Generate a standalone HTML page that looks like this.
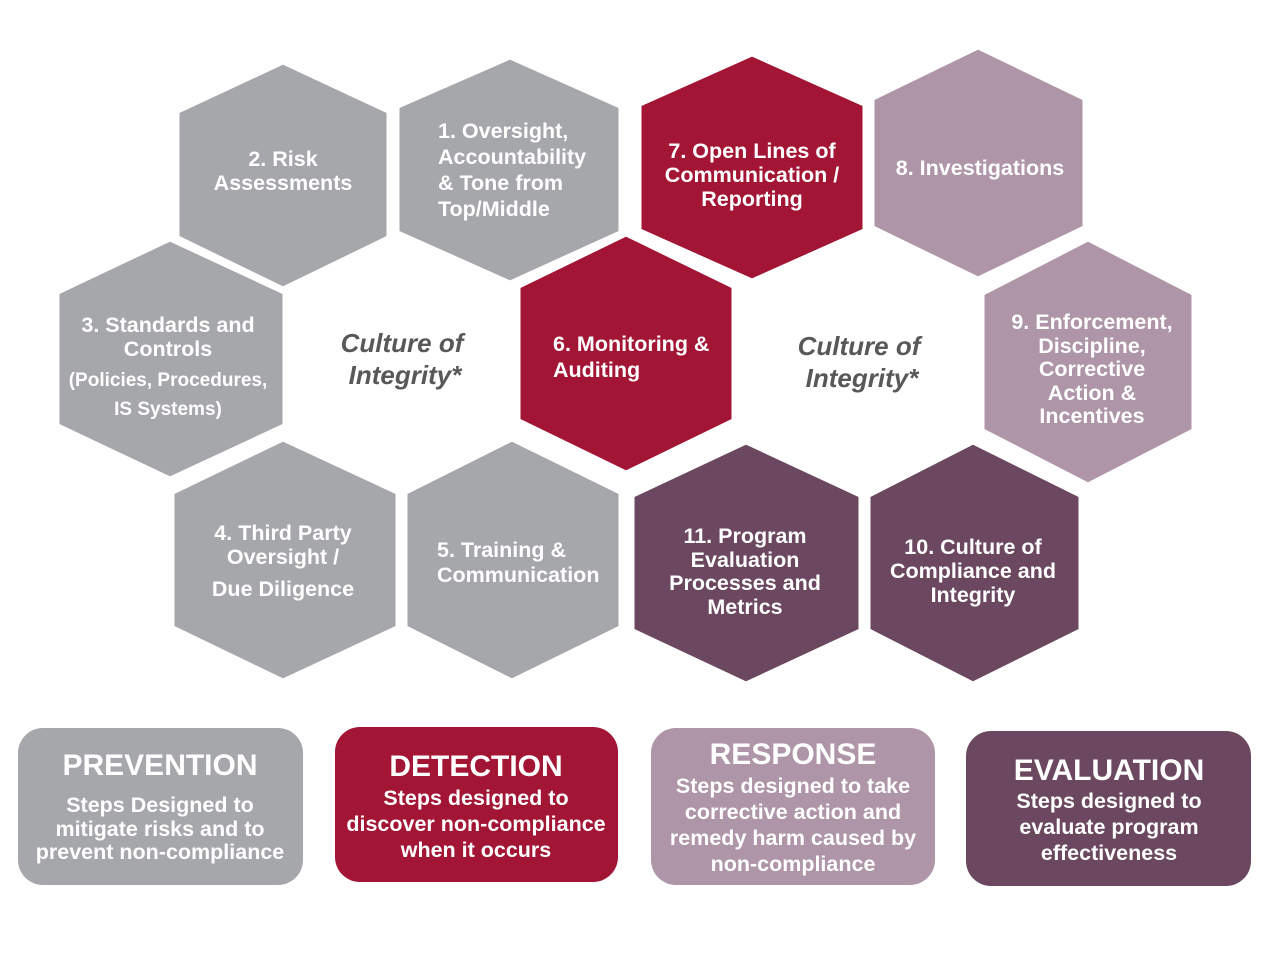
<!DOCTYPE html>
<html><head><style>
html,body{margin:0;padding:0;background:#fff;}
svg{display:block;}
text{font-family:"Liberation Sans",Arial,sans-serif;font-weight:bold;fill:#fff;text-anchor:middle;}
.h{font-size:21.5px;}
.c{fill:#58585a;font-style:italic;font-size:26px;}
.t{font-size:30px;}
.s{font-size:21.5px;}
</style></head><body>
<svg width="1280" height="960" viewBox="0 0 1280 960" xmlns="http://www.w3.org/2000/svg">
<g stroke="#fff" stroke-width="3">
<polygon fill="#a6a7aa" points="283,63 388,112 388,237 283,288 178,237 178,112"/>
<polygon fill="#a6a7aa" points="510,58 620,107 620,232 510,282 398,232 398,107"/>
<polygon fill="#a31535" points="752,55 864,105 864,230 752,280 640,230 640,105"/>
<polygon fill="#ae95a8" points="978,48 1084,99 1084,227 978,278 873,227 873,99"/>
<polygon fill="#a6a7aa" points="170,240 284,293 284,425 170,478 58,425 58,293"/>
<polygon fill="#a31535" points="626,235 733,287 733,420 626,472 519,420 519,287"/>
<polygon fill="#ae95a8" points="1088,240 1193,294 1193,430 1088,484 983,430 983,294"/>
<polygon fill="#a6a7aa" points="283,440 397,493 397,627 283,680 173,627 173,493"/>
<polygon fill="#a6a7aa" points="512,440 620,493 620,627 512,680 406,627 406,493"/>
<polygon fill="#6b4860" points="746,443 860,496 860,630 746,683 633,630 633,496"/>
<polygon fill="#6b4860" points="973,443 1080,496 1080,630 973,683 869,630 869,496"/>
</g>
<text class="h" x="283" y="166">2. Risk</text>
<text class="h" x="283" y="190">Assessments</text>
<text class="h" x="438" y="138" style="text-anchor:start">1. Oversight,</text>
<text class="h" x="438" y="164" style="text-anchor:start">Accountability</text>
<text class="h" x="438" y="190" style="text-anchor:start">&amp; Tone from</text>
<text class="h" x="438" y="216" style="text-anchor:start">Top/Middle</text>
<text class="h" x="752" y="158">7. Open Lines of</text>
<text class="h" x="752" y="182">Communication /</text>
<text class="h" x="752" y="206">Reporting</text>
<text class="h" x="980" y="175">8. Investigations</text>
<text class="h" x="168" y="332">3. Standards and</text>
<text class="h" x="168" y="356">Controls</text>
<text class="h" x="168" y="386" style="font-size:19px">(Policies, Procedures,</text>
<text class="h" x="168" y="415" style="font-size:19px">IS Systems)</text>
<text class="c" x="402" y="352">Culture of</text>
<text class="c" x="405" y="384">Integrity*</text>
<text class="h" x="553" y="351" style="text-anchor:start">6. Monitoring &amp;</text>
<text class="h" x="553" y="377" style="text-anchor:start">Auditing</text>
<text class="c" x="859" y="355">Culture of</text>
<text class="c" x="862" y="387">Integrity*</text>
<text class="h" x="1092" y="329">9. Enforcement,</text>
<text class="h" x="1092" y="353">Discipline,</text>
<text class="h" x="1092" y="376">Corrective</text>
<text class="h" x="1092" y="400">Action &amp;</text>
<text class="h" x="1092" y="423">Incentives</text>
<text class="h" x="283" y="540">4. Third Party</text>
<text class="h" x="283" y="564">Oversight /</text>
<text class="h" x="283" y="596">Due Diligence</text>
<text class="h" x="437" y="557" style="text-anchor:start">5. Training &amp;</text>
<text class="h" x="437" y="582" style="text-anchor:start">Communication</text>
<text class="h" x="745" y="543">11. Program</text>
<text class="h" x="745" y="567">Evaluation</text>
<text class="h" x="745" y="590">Processes and</text>
<text class="h" x="745" y="614">Metrics</text>
<text class="h" x="973" y="554">10. Culture of</text>
<text class="h" x="973" y="578">Compliance and</text>
<text class="h" x="973" y="602">Integrity</text>

<rect x="18" y="728" width="285" height="157" rx="25" fill="#a6a7aa"/>
<rect x="335" y="727" width="283" height="155" rx="25" fill="#a31535"/>
<rect x="651" y="728" width="284" height="157" rx="25" fill="#ae95a8"/>
<rect x="966" y="731" width="285" height="155" rx="25" fill="#6b4860"/>
<text class="t" x="160" y="775">PREVENTION</text>
<text class="s" x="160" y="812">Steps Designed to</text>
<text class="s" x="160" y="836">mitigate risks and to</text>
<text class="s" x="160" y="859">prevent non-compliance</text>
<text class="t" x="476" y="776">DETECTION</text>
<text class="s" x="476" y="805">Steps designed to</text>
<text class="s" x="476" y="831">discover non-compliance</text>
<text class="s" x="476" y="857">when it occurs</text>
<text class="t" x="793" y="764">RESPONSE</text>
<text class="s" x="793" y="793">Steps designed to take</text>
<text class="s" x="793" y="819">corrective action and</text>
<text class="s" x="793" y="845">remedy harm caused by</text>
<text class="s" x="793" y="871">non-compliance</text>
<text class="t" x="1109" y="780">EVALUATION</text>
<text class="s" x="1109" y="808">Steps designed to</text>
<text class="s" x="1109" y="834">evaluate program</text>
<text class="s" x="1109" y="860">effectiveness</text>
</svg>
</body></html>
